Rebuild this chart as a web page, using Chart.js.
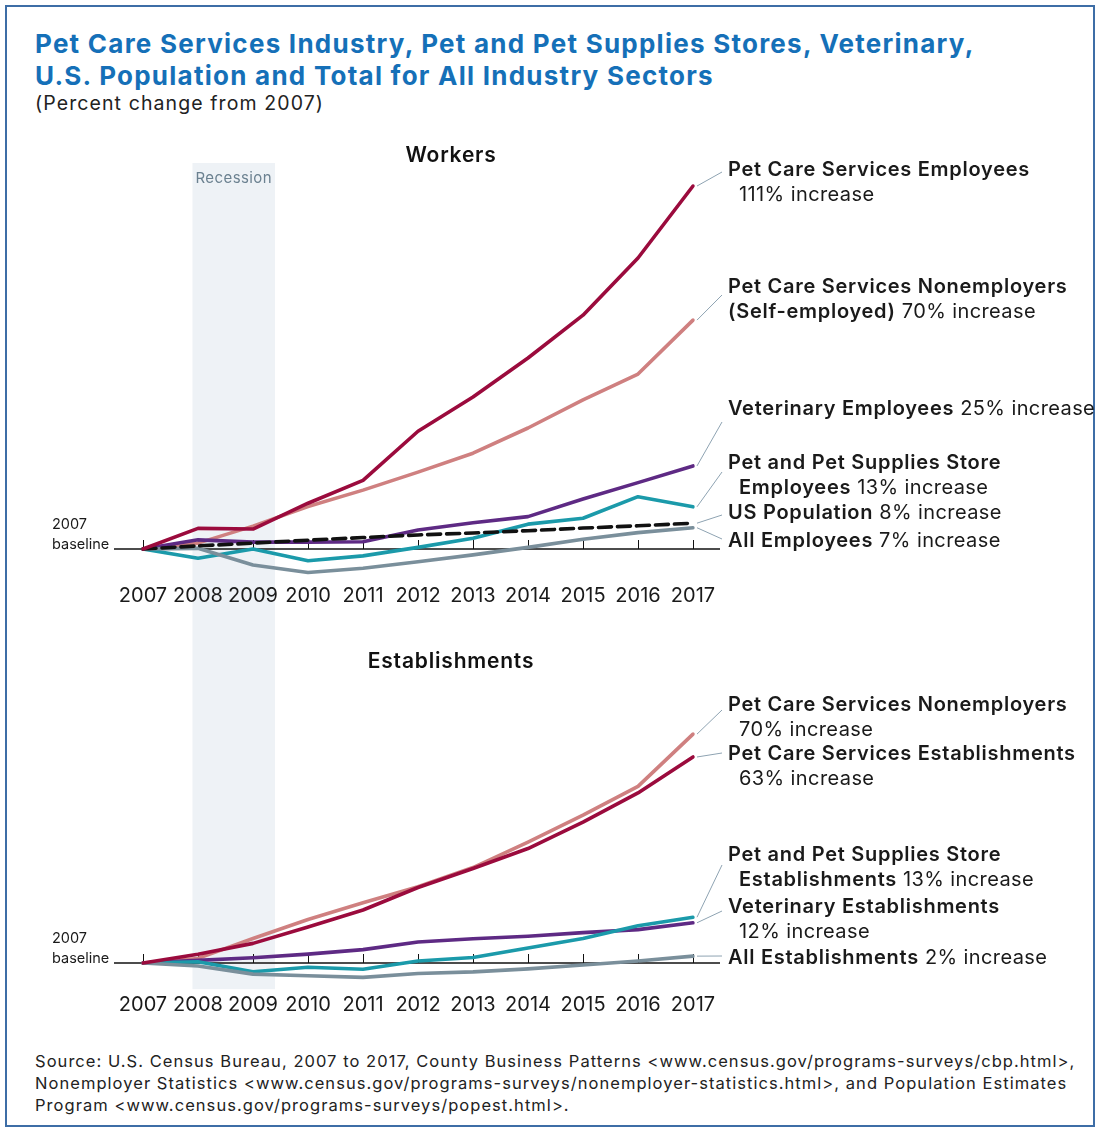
<!DOCTYPE html>
<html><head><meta charset="utf-8">
<script src="https://cdn.jsdelivr.net/npm/chart.js@4.4.1/dist/chart.umd.min.js"></script>
<style>
html,body{margin:0;padding:0;background:#fff;}
body{width:1100px;height:1132px;position:relative;overflow:hidden;font-family:Inter,"Noto Sans",sans-serif;}
#frame{position:absolute;left:5px;top:5px;width:1086px;height:1118px;border:2px solid #3d6da6;}
#title{position:absolute;left:35px;top:28px;margin:0;font-size:26px;font-weight:700;color:#1570b8;line-height:32px;white-space:nowrap;letter-spacing:1.25px;}
#subtitle{position:absolute;left:35px;top:91px;font-size:19.5px;line-height:24px;color:#222;letter-spacing:1.1px;}
canvas{position:absolute;left:0;}
#source{position:absolute;left:35px;top:1050px;font-size:16.5px;line-height:22px;color:#222;white-space:nowrap;letter-spacing:1.05px;}
</style></head>
<body>
<div id="frame"></div>
<h1 id="title">Pet Care Services Industry, Pet and Pet Supplies Stores, Veterinary,<br>U.S. Population and Total for All Industry Sectors</h1>
<div id="subtitle">(Percent change from 2007)</div>
<canvas id="top" width="1100" height="510" style="top:130px;width:1100px;height:510px"></canvas>
<canvas id="bottom" width="1100" height="390" style="top:640px;width:1100px;height:390px"></canvas>
<div id="source">Source: U.S. Census Bureau, 2007 to 2017, County Business Patterns &lt;www.census.gov/programs-surveys/cbp.html&gt;,<br>Nonemployer Statistics &lt;www.census.gov/programs-surveys/nonemployer-statistics.html&gt;, and Population Estimates<br>Program &lt;www.census.gov/programs-surveys/popest.html&gt;.</div>
<script>
// ---------- DATA ----------
const years = ['2007','2008','2009','2010','2011','2012','2013','2014','2015','2016','2017'];
const recession = [2007.9, 2009.4];

// Workers (percent change from 2007)
const petCareEmployees     = [0, 6.3, 6.1, 14, 21, 36, 46.5, 58.4, 71.5, 89, 111];
const petCareNonemployersW = [0, 1.8, 7, 13, 18, 23.5, 29.3, 37, 45.6, 53.5, 70];
const veterinaryEmployees  = [0, 2.8, 2.1, 2.1, 2.2, 5.8, 8, 9.9, 15.3, 20.3, 25.4];
const petStoreEmployees    = [0, -2.8, 0, -3.6, -2.1, 0.5, 3.3, 7.6, 9.4, 16, 12.9];
const usPopulation         = [0, 0.95, 1.8, 2.7, 3.5, 4.3, 4.9, 5.6, 6.4, 7.1, 7.9];
const allEmployees         = [0, 0.2, -4.9, -7.2, -5.9, -3.9, -1.8, 0.5, 3, 5, 6.5];

// Establishments (percent change from 2007)
const petCareNonemployersE   = [0, 1.4, 7.5, 13.3, 18.4, 23.3, 29.2, 37, 45.2, 54, 70];
const petCareEstablishments  = [0, 2.7, 6, 11, 16.2, 23.1, 28.9, 35, 43.1, 52, 63];
const vetEstablishments      = [0, 0.8, 1.6, 2.7, 4.1, 6.4, 7.4, 8.2, 9.3, 10.2, 12.3];
const petStoreEstablishments = [0, 0.4, -2.7, -1.3, -1.9, 0.6, 1.7, 4.6, 7.5, 11.4, 14];
const allEstablishments      = [0, -0.9, -3.4, -3.9, -4.4, -3.2, -2.7, -1.8, -0.6, 0.6, 2.1];

// ---------- STYLE ----------
const C = {
  red:'#9b0b3d', pink:'#cf8080', purple:'#5e2a84', teal:'#1b9aaa', gray:'#7a8f9b', black:'#111111'
};
const FONT = 'Inter, "Noto Sans", sans-serif';

function line(data, color, dash) {
  return { data, borderColor: color, borderWidth: 3.6, pointRadius: 0, tension: 0,
           borderCapStyle: 'round', borderJoinStyle: 'round', borderDash: dash || [], fill: false };
}

function spaced(ctx, px) { if ('letterSpacing' in ctx) ctx.letterSpacing = px + 'px'; }

const panelPlugin = {
  id: 'panel',
  beforeDraw(chart, args, o) {
    const {ctx} = chart; const xs = chart.scales.x;
    const x0 = xs.getPixelForValue(recession[0] - 2007), x1 = xs.getPixelForValue(recession[1] - 2007);
    const t = o.bandTop == null ? 0 : o.bandTop - o.pageTop;
    const b = o.bandBottom == null ? chart.height : (o.bandBottom === 'area' ? chart.chartArea.bottom : o.bandBottom - o.pageTop);
    ctx.save();
    ctx.fillStyle = '#eef2f6';
    ctx.fillRect(x0, t, x1 - x0, b - t);
    if (o.bandLabel) {
      ctx.fillStyle = '#6b8190'; ctx.font = '15px ' + FONT; ctx.textAlign = 'center'; ctx.textBaseline = 'middle';
      spaced(ctx, 0.4);
      ctx.fillText('Recession', (x0 + x1) / 2, o.bandLabel - o.pageTop);
    }
    // panel title
    ctx.fillStyle = '#111'; ctx.font = '600 21px ' + FONT; ctx.textAlign = 'center'; ctx.textBaseline = 'middle';
    spaced(ctx, 0.8);
    ctx.fillText(o.title, o.titleX, o.titleY - o.pageTop);
    ctx.restore();
  },
  beforeDatasetsDraw(chart, args, o) {
    const {ctx} = chart; const xs = chart.scales.x, ys = chart.scales.y;
    const y0 = ys.getPixelForValue(0);
    ctx.save();
    ctx.strokeStyle = '#111'; ctx.lineWidth = 1.5;
    ctx.beginPath(); ctx.moveTo(114, y0); ctx.lineTo(720, y0); ctx.stroke();
    ctx.lineWidth = 1;
    years.forEach((_, i) => {
      const x = Math.round(xs.getPixelForValue(i)) + 0.5;
      ctx.beginPath(); ctx.moveTo(x, y0); ctx.lineTo(x, y0 - 9); ctx.stroke();
    });
    ctx.fillStyle = '#1a1a1a'; ctx.font = '14.5px ' + FONT; ctx.textAlign = 'left'; ctx.textBaseline = 'middle';
    ctx.fillText('2007', 52, y0 - 24);
    ctx.fillText('baseline', 52, y0 - 4);
    ctx.restore();
  },
  afterDraw(chart, args, o) {
    const {ctx} = chart; const xs = chart.scales.x, ys = chart.scales.y;
    ctx.save();
    o.notes.forEach(n => {
      const ds = chart.data.datasets[n.ds].data;
      const sx = xs.getPixelForValue(ds.length - 1) + 4, sy = ys.getPixelForValue(ds[ds.length - 1]);
      ctx.strokeStyle = '#8ea3b2'; ctx.lineWidth = 1;
      ctx.beginPath(); ctx.moveTo(sx, sy); ctx.lineTo(722, n.end - o.pageTop); ctx.stroke();
      ctx.textAlign = 'left'; ctx.textBaseline = 'middle'; ctx.fillStyle = '#1a1a1a';
      n.lines.forEach(l => {
        let x = l.x;
        l.parts.forEach(p => {
          const bold = p[0] === 'b';
          ctx.font = (bold ? '600 ' : '400 ') + '20px ' + FONT;
          spaced(ctx, bold ? 0.72 : 0.4);
          ctx.fillText(p[1], x, l.y - o.pageTop);
          x += ctx.measureText(p[1]).width;
        });
      });
    });
    ctx.restore();
  }
};

function makeChart(id, pageTop, H, base, pxPer, yMin, yMax, tickPad, datasets, panel) {
  const axisH = 30;
  const areaTop = base - yMax * pxPer, areaBottom = base - yMin * pxPer;
  const padTop = areaTop - pageTop;
  const padBottom = H - padTop - (areaBottom - areaTop) - axisH;
  panel.pageTop = pageTop;
  return new Chart(document.getElementById(id), {
    type: 'line',
    data: { labels: years, datasets },
    options: {
      responsive: false, animation: false, events: [],
      layout: { padding: { left: 143, right: 1100 - 693, top: padTop, bottom: padBottom } },
      plugins: { legend: { display: false }, tooltip: { enabled: false }, panel },
      scales: {
        x: { type: 'category', offset: false,
             grid: { display: false, drawTicks: false }, border: { display: false },
             ticks: { font: { family: FONT, size: 20 }, color: '#1a1a1a', padding: tickPad, maxRotation: 0, autoSkip: false },
             afterFit(s) { s.height = axisH; } },
        y: { display: false, min: yMin, max: yMax }
      }
    },
    plugins: [panelPlugin]
  });
}

makeChart('top', 130, 510, 549, 3.27, -10, 122, 2, [
  line(petCareEmployees, C.red),
  line(usPopulation, C.black, [13, 6]),
  line(allEmployees, C.gray),
  line(petStoreEmployees, C.teal),
  line(veterinaryEmployees, C.purple),
  line(petCareNonemployersW, C.pink)
], {
  title: 'Workers', titleX: 451, titleY: 156, bandTop: 163, bandBottom: null, bandLabel: 178,
  notes: [
    { ds: 0, end: 172, lines: [ {x:728, y:170, parts:[['b','Pet Care Services Employees']]}, {x:739, y:195, parts:[['r','111% increase']]} ] },
    { ds: 5, end: 295, lines: [ {x:728, y:287, parts:[['b','Pet Care Services Nonemployers']]}, {x:728, y:312, parts:[['b','(Self-employed)'],['r',' 70% increase']]} ] },
    { ds: 4, end: 422, lines: [ {x:728, y:409, parts:[['b','Veterinary Employees'],['r',' 25% increase']]} ] },
    { ds: 3, end: 472, lines: [ {x:728, y:463, parts:[['b','Pet and Pet Supplies Store']]}, {x:739, y:488, parts:[['b','Employees'],['r',' 13% increase']]} ] },
    { ds: 1, end: 515, lines: [ {x:728, y:513, parts:[['b','US Population'],['r',' 8% increase']]} ] },
    { ds: 2, end: 539, lines: [ {x:728, y:541, parts:[['b','All Employees'],['r',' 7% increase']]} ] }
  ]
});

makeChart('bottom', 640, 390, 963, 3.27, -8, 86, 3.5, [
  line(petCareEstablishments, C.red),
  line(allEstablishments, C.gray),
  line(petStoreEstablishments, C.teal),
  line(vetEstablishments, C.purple),
  line(petCareNonemployersE, C.pink)
], {
  title: 'Establishments', titleX: 451, titleY: 662, bandTop: null, bandBottom: 'area', bandLabel: null,
  notes: [
    { ds: 4, end: 710, lines: [ {x:728, y:705, parts:[['b','Pet Care Services Nonemployers']]}, {x:739, y:730, parts:[['r','70% increase']]} ] },
    { ds: 0, end: 753, lines: [ {x:728, y:754, parts:[['b','Pet Care Services Establishments']]}, {x:739, y:779, parts:[['r','63% increase']]} ] },
    { ds: 2, end: 865, lines: [ {x:728, y:855, parts:[['b','Pet and Pet Supplies Store']]}, {x:739, y:880, parts:[['b','Establishments'],['r',' 13% increase']]} ] },
    { ds: 3, end: 911, lines: [ {x:728, y:907, parts:[['b','Veterinary Establishments']]}, {x:739, y:932, parts:[['r','12% increase']]} ] },
    { ds: 1, end: 956, lines: [ {x:728, y:958, parts:[['b','All Establishments'],['r',' 2% increase']]} ] }
  ]
});
</script>
</body></html>
